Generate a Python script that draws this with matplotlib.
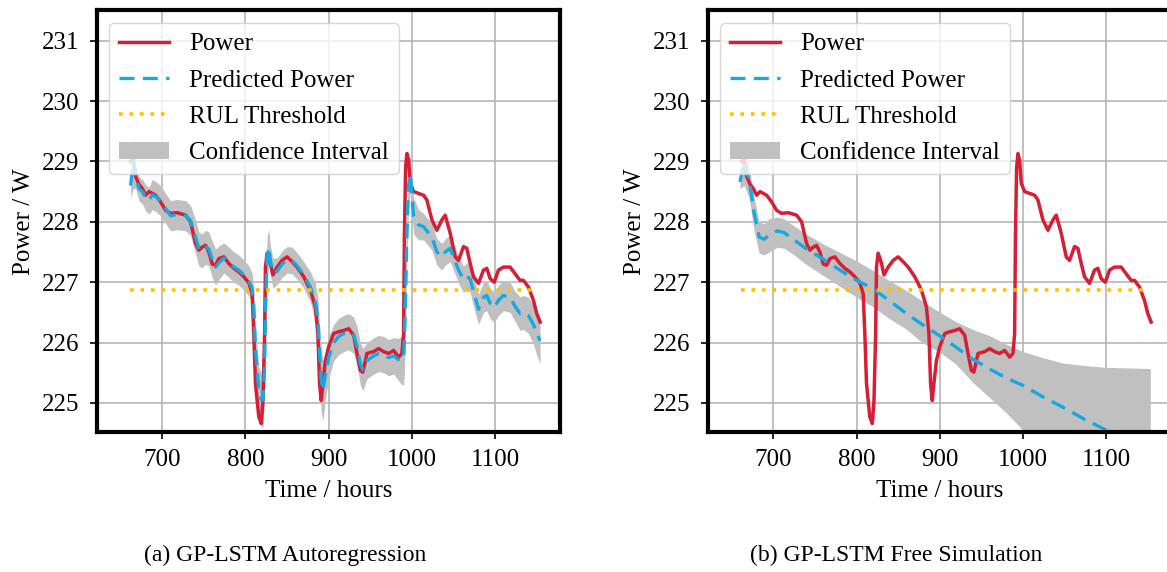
# plot.py
# GP-LSTM power prediction: autoregression vs free simulation

import numpy as np
import matplotlib.pyplot as plt

plt.rcParams['font.family'] = ['Liberation Serif', 'DejaVu Serif']
plt.rcParams['mathtext.fontset'] = 'stix'

# Measured power (shared by both panels)
hours = [662, 665, 668, 672, 676, 680, 684, 688, 692, 698, 704, 710, 718, 728, 734,
         740, 744, 748, 752, 756, 760, 764, 768, 774, 780, 786, 792, 798, 804, 808,
         810, 812, 816, 819, 821, 823, 824, 826, 828, 830, 833, 838, 844, 850, 856,
         862, 870, 878, 884, 887, 889, 891, 893, 896, 900, 906, 912, 918, 924, 930,
         934, 938, 941, 946, 954, 960, 966, 972, 978, 984, 988, 990, 991, 992.4, 994,
         996, 998, 1002, 1008, 1014, 1018, 1024, 1030, 1036, 1040, 1046, 1052, 1056, 1062, 1066,
         1070, 1074, 1080, 1086, 1090, 1094, 1099, 1104, 1110, 1118, 1124, 1130, 1134, 1140, 1146,
         1150, 1154]
power = [229.0, 229.05, 228.75, 228.62, 228.55, 228.44, 228.5, 228.47, 228.44, 228.33, 228.19, 228.14, 228.15, 228.11, 228.0,
         227.64, 227.53, 227.58, 227.61, 227.5, 227.3, 227.28, 227.39, 227.42, 227.31, 227.23, 227.17, 227.09, 226.99, 226.81,
         226.15, 225.32, 224.77, 224.66, 225.04, 226.15, 227.25, 227.48, 227.4, 227.31, 227.12, 227.25, 227.36, 227.42, 227.34,
         227.25, 227.09, 226.87, 226.59, 226.15, 225.32, 225.04, 225.32, 225.7, 225.93, 226.15, 226.18, 226.2, 226.23, 226.12,
         225.82, 225.54, 225.51, 225.82, 225.85, 225.9, 225.85, 225.82, 225.87, 225.76, 225.82, 226.15, 227.8, 228.9, 229.13,
         229.02, 228.64, 228.5, 228.47, 228.44, 228.36, 228.03, 227.86, 228.03, 228.11, 227.81, 227.42, 227.36, 227.59, 227.56,
         227.31, 227.09, 226.98, 227.2, 227.23, 227.06, 227.0, 227.2, 227.25, 227.25, 227.14, 227.03, 227.03, 226.92, 226.7,
         226.48, 226.34]

# (a) autoregressive prediction and confidence half-width, same hours
ar_pred = [228.6, 229.0, 228.75, 228.55, 228.5, 228.4, 228.35, 228.45, 228.42, 228.35, 228.22, 228.1, 228.12, 228.1, 228.02,
           227.75, 227.55, 227.52, 227.58, 227.55, 227.38, 227.25, 227.32, 227.4, 227.33, 227.25, 227.2, 227.12, 227.02, 226.9,
           226.6, 225.9, 225.2, 225.05, 225.05, 225.6, 226.5, 227.4, 227.58, 227.35, 227.15, 227.18, 227.3, 227.37, 227.36,
           227.27, 227.12, 226.92, 226.68, 226.4, 225.85, 225.4, 225.2, 225.45, 225.75, 226.0, 226.1, 226.15, 226.18, 226.12,
           225.95, 225.65, 225.55, 225.7, 225.78, 225.82, 225.8, 225.75, 225.78, 225.72, 225.7, 225.75, 226.0, 226.8, 227.8,
           228.6, 228.8, 228.1, 227.95, 227.92, 227.85, 227.75, 227.5, 227.42, 227.5, 227.56, 227.35, 227.2, 227.05, 227.1,
           227.05, 226.85, 226.55, 226.75, 226.78, 226.65, 226.58, 226.7, 226.78, 226.75, 226.6, 226.48, 226.5, 226.45, 226.3,
           226.15, 226.03]
ar_halfwidth = [0.2, 0.45, 0.2, 0.2, 0.2, 0.22, 0.22, 0.25, 0.25, 0.25, 0.25, 0.25, 0.25, 0.25, 0.25,
                0.28, 0.28, 0.28, 0.28, 0.28, 0.3, 0.3, 0.28, 0.25, 0.25, 0.25, 0.25, 0.25, 0.25, 0.25,
                0.3, 0.35, 0.4, 0.45, 0.45, 0.45, 0.45, 0.35, 0.3, 0.25, 0.25, 0.22, 0.22, 0.22, 0.22,
                0.22, 0.22, 0.25, 0.3, 0.35, 0.45, 0.55, 0.5, 0.4, 0.35, 0.3, 0.3, 0.3, 0.3, 0.3,
                0.32, 0.35, 0.35, 0.3, 0.3, 0.3, 0.3, 0.3, 0.3, 0.35, 0.4, 0.45, 0.5, 0.5, 0.45,
                0.35, 0.3, 0.3, 0.25, 0.22, 0.22, 0.22, 0.22, 0.22, 0.22, 0.22, 0.22, 0.22, 0.22, 0.22,
                0.22, 0.25, 0.25, 0.25, 0.25, 0.25, 0.25, 0.25, 0.25, 0.25, 0.25, 0.28, 0.28, 0.3, 0.32,
                0.35, 0.38]

# (b) free simulation prediction and confidence bounds
sim_hours = [660, 665, 671, 677, 683, 689, 695, 705, 713, 723, 739, 759, 779, 799, 819,
             839, 859, 879, 899, 919, 939, 959, 979, 1000, 1024, 1048, 1074, 1100, 1126, 1153]
sim_pred = [228.66, 229.0, 228.69, 228.14, 227.75, 227.71, 227.78, 227.85, 227.82, 227.72, 227.56, 227.39, 227.21, 227.04, 226.9,
            226.7, 226.49, 226.3, 226.12, 225.93, 225.73, 225.57, 225.42, 225.29, 225.1, 224.93, 224.73, 224.55, 224.38, 224.22]
sim_upper = [228.75, 229.4, 228.9, 228.4, 228.0, 227.97, 228.05, 228.08, 228.05, 227.95, 227.8, 227.64, 227.5, 227.36, 227.2,
             227.03, 226.87, 226.69, 226.51, 226.35, 226.22, 226.12, 225.98, 225.85, 225.75, 225.66, 225.62, 225.59, 225.58, 225.57]
sim_lower = [228.55, 228.6, 228.4, 227.85, 227.48, 227.45, 227.5, 227.58, 227.56, 227.47, 227.3, 227.12, 226.94, 226.76, 226.6,
             226.4, 226.23, 226.0, 225.85, 225.65, 225.35, 225.1, 224.85, 224.55, 224.25, 223.95, 223.65, 223.35, 223.05, 222.75]

rul_threshold = 226.87
rul_hours = [661, 1147]

red = '#D81E34'
blue = '#16A9E1'
gold = '#FFC000'

fig = plt.figure(figsize=(11.67, 5.72), dpi=100)
ax_a = fig.add_axes([0.0827, 0.2448, 0.3972, 0.737])
ax_b = fig.add_axes([0.6063, 0.2448, 0.3972, 0.737])

pred_a = np.array(ar_pred)
hw_a = np.array(ar_halfwidth)

panels = [
    (ax_a, hours, pred_a, pred_a - hw_a, pred_a + hw_a),
    (ax_b, sim_hours, np.array(sim_pred), np.array(sim_lower), np.array(sim_upper)),
]

for ax, t_pred, pred, lo, hi in panels:
    l_pow, = ax.plot(hours, power, color=red, lw=2.5, label='Power')
    l_pred, = ax.plot(t_pred, pred, color=blue, lw=2.4, ls=(0, (4.5, 2.5)), label='Predicted Power')
    l_rul, = ax.plot(rul_hours, [rul_threshold, rul_threshold], color=gold, lw=2.6,
                     ls=(0, (1.0, 1.9)), label='RUL Threshold')
    band = ax.fill_between(t_pred, lo, hi, color='#C0C0C0', lw=0, label='Confidence Interval')

    ax.set_xlim(621, 1178)
    ax.set_ylim(224.52, 231.5)
    ax.set_xticks([700, 800, 900, 1000, 1100])
    ax.set_yticks([225, 226, 227, 228, 229, 230, 231])
    ax.tick_params(labelsize=18, width=1.2, length=5, pad=7.5)
    ax.grid(True, color='#b0b0b0', lw=1.1)
    ax.set_axisbelow(True)
    for s in ax.spines.values():
        s.set_linewidth(3)
    ax.set_xlabel('Time / hours', fontsize=18, labelpad=6)
    ax.set_ylabel('Power / W', fontsize=18, labelpad=5)
    ax.legend([l_pow, l_pred, l_rul, band],
              ['Power', 'Predicted Power', 'RUL Threshold', 'Confidence Interval'],
              loc='upper left', fontsize=18, labelspacing=0.55)

fig.text(285 / 1167, 1 - 555 / 572, '(a) GP-LSTM Autoregression', fontsize=17, ha='center', va='center')
fig.text(896 / 1167, 1 - 555 / 572, '(b) GP-LSTM Free Simulation', fontsize=17, ha='center', va='center')

fig.savefig('out.png', dpi=100)
